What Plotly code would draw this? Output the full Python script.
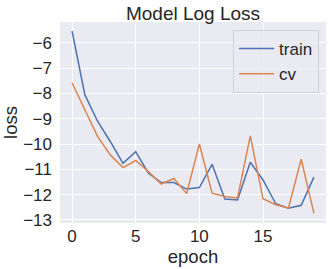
import plotly.graph_objects as go

epochs = list(range(20))
train_loss = [-5.54, -8.05, -9.1, -9.9, -10.76, -10.3, -11.15, -11.52, -11.52, -11.78,
              -11.72, -10.8, -12.17, -12.21, -10.72, -11.42, -12.36, -12.54, -12.42, -11.31]
cv_loss = [-7.59, -8.62, -9.7, -10.43, -10.93, -10.65, -11.09, -11.58, -11.36, -11.96,
           -10.0, -11.94, -12.07, -12.13, -9.68, -12.16, -12.4, -12.53, -10.6, -12.73]
x_ticks = [0, 5, 10, 15]
y_ticks = [-13, -12, -11, -10, -9, -8, -7, -6]

FONT = "Arial, Liberation Sans, sans-serif"

fig = go.Figure()
fig.add_trace(go.Scatter(x=epochs, y=train_loss, mode="lines", name="train",
                         line=dict(color="#4C72B0", width=1.5)))
fig.add_trace(go.Scatter(x=epochs, y=cv_loss, mode="lines", name="cv",
                         line=dict(color="#DD8452", width=1.5)))

fig.update_layout(
    width=333, height=269,
    margin=dict(l=60, r=7, t=22, b=46),
    paper_bgcolor="white",
    plot_bgcolor="#EAEAF2",
    font=dict(family=FONT, color="#262626"),
    title=dict(text="Model Log Loss", x=0.5, xref="paper", xanchor="center",
               y=0.95, yref="container", yanchor="middle",
               font=dict(size=19, color="#262626")),
    showlegend=True,
    legend=dict(x=0.974, y=0.96, xanchor="right", yanchor="top",
                bgcolor="rgba(234,234,242,0.8)", bordercolor="#D0D0D8", borderwidth=1,
                font=dict(size=17), itemwidth=35),
)
fig.update_xaxes(range=[-0.95, 19.95], tickvals=x_ticks, showgrid=True, gridcolor="white",
                 gridwidth=1.2, zeroline=False, showline=False, ticks="",
                 tickfont=dict(size=17), ticklabelstandoff=1,
                 title=dict(text="epoch", font=dict(size=18.5), standoff=0))
fig.update_yaxes(range=[-13.12, -5.18], tickvals=y_ticks, showgrid=True, gridcolor="white",
                 gridwidth=1.2, zeroline=False, showline=False, ticks="",
                 tickfont=dict(size=17), ticklabelstandoff=7,
                 title=dict(text="loss", font=dict(size=18.5), standoff=4))

fig.write_html("out.html", config={"displayModeBar": False},
               post_script="document.body.style.margin='0';")
